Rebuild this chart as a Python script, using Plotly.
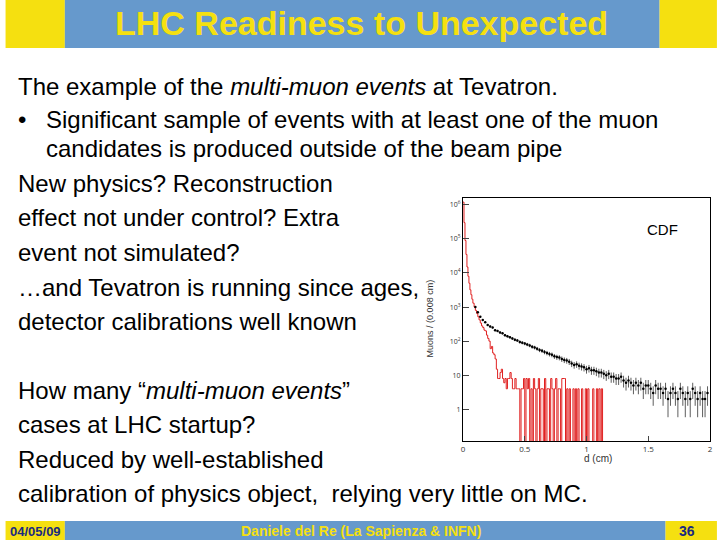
import plotly.graph_objects as go
import numpy as np

# red histogram (bin left edges, counts; 0 -> empty bin)
red_x = [0.0,0.008,0.016,0.024,0.032,0.04,0.048,0.056,0.064,0.072,0.08,0.09,0.10,0.11,0.12,0.13,0.14,0.15,0.16,0.17,0.18,0.19,0.20,0.21,0.22,0.23,0.24,0.25,0.26,0.27,0.28,0.29,0.30,0.31,0.32,0.33,0.34,0.35,0.36,0.37,0.38,0.39,0.40,0.41,0.42,0.43,0.44,0.45,0.46,0.47,0.48,0.49,0.50,0.51,0.52,0.53,0.54,0.55,0.56,0.57,0.58,0.59,0.60,0.61,0.62,0.63,0.64,0.65,0.66,0.67,0.68,0.69,0.70,0.71,0.72,0.73,0.74,0.75,0.76,0.77,0.78,0.79,0.80,0.81,0.82,0.83,0.84,0.85,0.86,0.87,0.88,0.89,0.90,0.91,0.92,0.93,0.94,0.95,0.96,0.97,0.98,0.99,1.00,1.01,1.02,1.03,1.04,1.05,1.06,1.07,1.08,1.09,1.10,1.11,1.12,1.13,1.14]
red_y = [1.2e6,3e5,9e4,3.5e4,1.5e4,8000,5000,3200,2300,1700,1300,1000,800,650,520,420,340,280,250,210,200,150,120,100,60,70,45,40,30,15,8,8,12,15,8,6,8,4,8,8,12,8,4,4,8,4,4,4,0,4,4,8,0,8,4,8,0,4,0,8,4,0,4,8,0,4,4,0,8,0,4,4,0,8,4,0,4,8,0,4,4,0,8,8,8,0,4,0,4,0,0,4,0,4,0,4,0,0,4,0,0,4,0,4,0,0,0,4,0,0,4,0,4,0,4,0,0]
red_y = [v if v > 0 else 0.01 for v in red_y]

# black points
blk_x = [0.10,0.12,0.14,0.16,0.18,0.20,0.22,0.24,0.26,0.28,0.30,0.32,0.34,0.36,0.38,0.40,0.42,0.44,0.46,0.48,0.50,0.52,0.54,0.56,0.58,0.60,0.62,0.64,0.66,0.68,0.70,0.72,0.74,0.76,0.78,0.80,0.82,0.84,0.86,0.88,0.90,0.92,0.94,0.96,0.98,1.00,1.02,1.04,1.06,1.08,1.10,1.12,1.14,1.16,1.18,1.20,1.22,1.24,1.26,1.28,1.30,1.32,1.34,1.36,1.38,1.40,1.42,1.44,1.46,1.48,1.50,1.52,1.54,1.56,1.58,1.60,1.62,1.64,1.66,1.68,1.70,1.72,1.74,1.76,1.78,1.80,1.82,1.84,1.86,1.88,1.90,1.92,1.94,1.96,1.98]
blk_y = [1000,700,520,420,360,300,270,250,210,200,180,170,150,140,130,120,110,105,95,90,85,80,75,68,65,60,55,52,48,45,42,40,36,34,33,30,28,27,25,22,20,21,19,18,17,15,16,14,14,13,12,12,11,10,11,9,9,8,8,9,7,6,7,6,5,6,5,6,4,5,5,4,3,5,4,4,3,4,2,3,4,3,2,4,3,2,3,2,4,3,2,3,2,2,3]
blk_err = [np.sqrt(v) for v in blk_y]

W, H = 720, 540
L, R, T, B = 463, 713, 198, 441
def px(x): return (x - L) / (R - L)
def py(y): return (H - y - (H - B)) / (B - T)

fig = go.Figure()
fig.add_trace(go.Scatter(x=red_x, y=red_y, mode="lines", line=dict(color="#e02020", width=1, shape="hv")))
fig.add_trace(go.Scatter(x=blk_x, y=blk_y, mode="markers", marker=dict(color="black", size=2.5),
                         error_y=dict(type="data", array=blk_err, color="#333", thickness=0.8, width=0)))

shapes = []
def rect(x0, y0, x1, y1, c):
    shapes.append(dict(type="rect", xref="paper", yref="paper", x0=px(x0), x1=px(x1), y0=py(y1), y1=py(y0),
                       fillcolor=c, line=dict(width=0), layer="below"))
YEL, BLU = "#f5e010", "#6699cc"
rect(0, 0, 60, 48, YEL); rect(60, 0, 662, 48, BLU); rect(662, 0, 720, 48, YEL)
rect(0, 521, 60, 540, YEL); rect(60, 521, 668, 540, BLU); rect(668, 521, 720, 540, YEL)

ann = []
def text(x, y, s, size=24, color="black", anchor="left", **kw):
    ann.append(dict(xref="paper", yref="paper", x=px(x), y=py(y), text=s, showarrow=False,
                    xanchor=anchor, yanchor="middle", borderpad=0,
                    font=dict(size=size, color=color, family="Liberation Sans, Arial"), **kw))
FS = 24
X0, X1 = 12, 40
text(360, 23, "<b>LHC Readiness to Unexpected</b>", 34, YEL, "center")
text(X0, 86, "The example of the <i>multi-muon events</i> at Tevatron.", FS)
text(X0, 120, "•", FS)
text(X1, 120, "Significant sample of events with at least one of the muon", FS)
text(X1, 148, "candidates is produced outside of the beam pipe", FS)
for y, s in [(183, "New physics? Reconstruction"), (217, "effect not under control? Extra"),
             (252, "event not simulated?"), (287, "…and Tevatron is running since ages,"),
             (321, "detector calibrations well known"),
             (390, "How many “<i>multi-muon events</i>”"), (424, "cases at LHC startup?"),
             (459, "Reduced by well-established"),
             (493, "calibration of physics object,  relying very little on MC.")]:
    text(X0, y, s, FS)
text(30, 531, "<b>04/05/09</b>", 13, "#1a2a80", "center")
text(360, 531, "<b>Daniele del Re (La Sapienza &amp; INFN)</b>", 14, YEL, "center")
text(690, 531, "<b>36</b>", 14, "#1a2a80", "center")
text(665, 229, "CDF", 15, "black", "center")
text(430, 318, "Muons / (0.008 cm)", 9, "#333", "center", textangle=-90)
text(600, 458, "d (cm)", 10, "#333", "center")

fig.update_layout(width=W, height=H, margin=dict(l=L, r=W - R, t=T, b=H - B),
                  paper_bgcolor="white", plot_bgcolor="white", showlegend=False,
                  shapes=shapes, annotations=ann)
fig.update_xaxes(range=[0, 2], tickvals=[0, 0.5, 1, 1.5, 2], ticktext=["0", "0.5", "1", "1.5", "2"],
                 showline=True, linecolor="black", mirror=True, ticks="inside", ticklen=5,
                 showgrid=False, zeroline=False, tickfont=dict(size=8, color="#333"))
fig.update_yaxes(type="log", range=[-0.93, 6.2], tickvals=[1, 10, 100, 1e3, 1e4, 1e5, 1e6],
                 ticktext=["1", "10", "10<sup>2</sup>", "10<sup>3</sup>", "10<sup>4</sup>", "10<sup>5</sup>", "10<sup>6</sup>"],
                 showline=True, linecolor="black", mirror=True, ticks="inside", ticklen=6,
                 showgrid=False, tickfont=dict(size=7, color="#333"))
fig.write_html("out.html", config={"displayModeBar": False},
               post_script="document.body.style.margin='0';document.body.style.overflow='hidden';")
